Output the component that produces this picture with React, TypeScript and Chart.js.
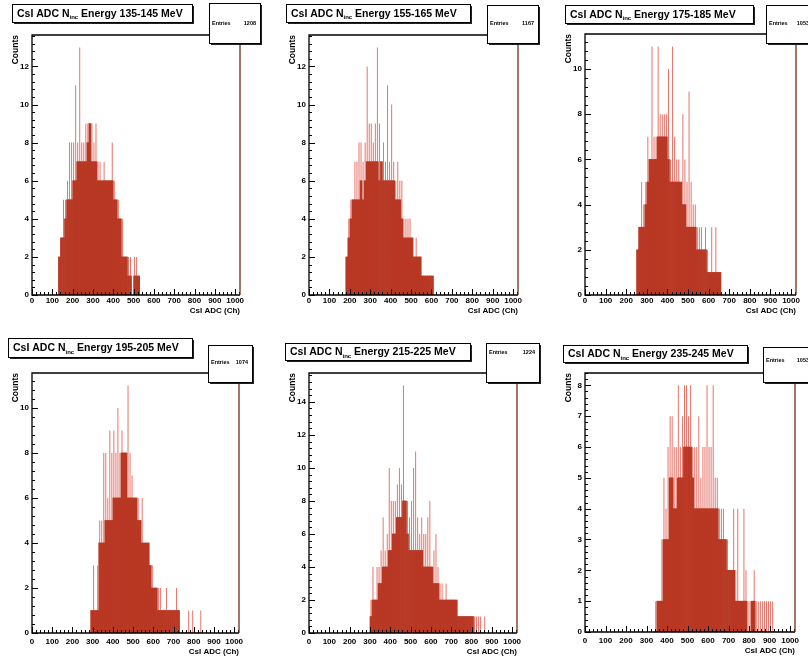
import React, { useEffect, useRef } from "react";
import { Chart, registerables } from "chart.js";

Chart.register(...registerables);

// ---------------- data ----------------
const BIN_WIDTH = 10; // ADC channels per drawn bin
const X_MAX = 1024;
const X_TICK_VALUES = [0, 100, 200, 300, 400, 500, 600, 700, 800, 900, 1000];
const X_TITLE = "CsI ADC (Ch)";
const Y_TITLE = "Counts";
const STATS_LABEL = "Entries";

const energyRanges = ["135-145", "155-165", "175-185", "195-205", "215-225", "235-245"];
const entries = [1208, 1167, 1053, 1074, 1224, 1053];
const startChannels = [130, 180, 250, 290, 300, 340];
const yTickSteps = [2, 2, 2, 2, 2, 1];

// dense level of the histogram (dark fill) and tallest single-channel spikes, per 10-channel bin
const body135 = [2, 3, 3, 4, 5, 5, 5, 6, 6, 7, 7, 7, 7, 7, 8, 9, 7, 7, 7, 6, 6, 6, 6, 6, 6, 6, 6, 5, 5, 4, 4, 2, 2, 2, 1, 1, 0, 1, 1, 1];
const peak135 = [2, 3, 5, 5, 6, 8, 8, 8, 11, 8, 13, 8, 8, 9, 9, 9, 9, 8, 9, 7, 7, 6, 7, 6, 6, 6, 8, 6, 5, 5, 4, 4, 2, 2, 2, 2, 0, 2, 2, 1];

const body155 = [2, 3, 4, 5, 5, 5, 5, 6, 5, 6, 7, 7, 7, 7, 7, 7, 6, 7, 6, 6, 6, 6, 6, 6, 5, 5, 5, 4, 3, 3, 3, 3, 3, 2, 2, 2, 2, 1, 1, 1, 1, 1, 1];
const peak155 = [2, 4, 5, 5, 7, 7, 8, 8, 7, 8, 12, 9, 9, 8, 9, 13, 9, 7, 8, 7, 11, 7, 10, 7, 6, 7, 6, 6, 4, 4, 4, 4, 3, 2, 3, 2, 2, 1, 1, 1, 1, 1, 1];

const body175 = [2, 3, 3, 3, 4, 5, 6, 6, 6, 6, 7, 7, 7, 7, 7, 6, 5, 5, 5, 5, 5, 5, 4, 4, 3, 3, 3, 3, 3, 2, 2, 2, 2, 2, 1, 1, 1, 1, 1, 1, 1];
const peak175 = [2, 3, 5, 4, 5, 7, 6, 11, 7, 7, 11, 8, 8, 8, 8, 10, 6, 11, 7, 6, 6, 5, 8, 6, 5, 9, 5, 4, 4, 3, 3, 3, 2, 3, 2, 1, 3, 1, 3, 1, 1];

const body195 = [1, 1, 1, 1, 4, 4, 4, 5, 5, 5, 5, 6, 6, 6, 6, 8, 8, 8, 6, 6, 6, 6, 6, 5, 5, 4, 4, 4, 4, 3, 2, 2, 2, 1, 1, 1, 1, 1, 1, 1, 1, 1, 1, 1, 0, 0, 0, 0, 0, 0, 0, 0, 0, 0, 0];
const peak195 = [1, 3, 1, 3, 5, 5, 8, 8, 6, 9, 8, 9, 8, 10, 8, 9, 8, 8, 11, 8, 7, 6, 6, 6, 5, 6, 4, 4, 4, 3, 3, 2, 2, 2, 2, 1, 1, 2, 1, 1, 1, 1, 2, 1, 0, 0, 0, 0, 1, 0, 1, 0, 0, 0, 1];

const body215 = [1, 2, 2, 2, 3, 3, 4, 4, 4, 5, 5, 6, 6, 7, 7, 7, 8, 8, 6, 5, 5, 5, 5, 5, 5, 5, 4, 4, 4, 4, 4, 3, 3, 3, 2, 2, 2, 2, 2, 2, 2, 2, 2, 1, 1, 1, 1, 1, 1, 1, 1, 0, 0, 0, 0, 0, 0];
const peak215 = [2, 4, 2, 4, 4, 5, 7, 5, 6, 10, 8, 8, 8, 9, 10, 9, 15, 8, 8, 7, 8, 10, 11, 7, 6, 7, 6, 6, 7, 8, 4, 5, 6, 4, 3, 3, 2, 3, 2, 2, 2, 2, 2, 1, 1, 1, 1, 1, 1, 1, 1, 1, 1, 1, 1, 0, 1];

const body235 = [0, 1, 1, 1, 3, 3, 3, 5, 5, 4, 4, 5, 5, 5, 6, 6, 6, 6, 5, 4, 4, 4, 4, 4, 4, 4, 4, 4, 4, 4, 4, 3, 3, 3, 3, 2, 2, 2, 2, 1, 1, 1, 1, 1, 1, 0, 0, 1, 1, 0, 0, 0, 0, 0, 0, 0, 0, 0];
const peak235 = [1, 1, 1, 3, 5, 4, 6, 7, 7, 6, 6, 8, 6, 7, 8, 8, 7, 8, 6, 6, 6, 7, 5, 6, 6, 8, 6, 6, 8, 5, 5, 4, 4, 4, 3, 3, 2, 2, 4, 2, 4, 1, 1, 4, 2, 1, 1, 1, 2, 1, 1, 1, 1, 1, 1, 1, 1, 1];

const bodies = [body135, body155, body175, body195, body215, body235];
const peaks = [peak135, peak155, peak175, peak195, peak215, peak235];

// ---------------- layout & style ----------------
const FONT = '"Liberation Sans", Arial, Helvetica, sans-serif';
const BODY_COLOR = "rgb(184,56,36)";
const PEAK_COLOR = "rgba(226,78,66,0.85)";
const FRAME_RIGHT = "#6e2e14";
const CANVAS_W = 277;

type Box = [number, number, number, number];
interface PanelLayout {
  plotLeft: number; plotTop: number; plotRight: number; plotBottom: number;
  canvasTop: number; canvasBottom: number; labelPad: number;
  titleBox: Box; statsBox: Box; statsY: number;
}

const LAYOUTS: PanelLayout[] = [
  { plotLeft: 32, plotTop: 35, plotRight: 240, plotBottom: 295, canvasTop: 0, canvasBottom: 316, labelPad: 1, titleBox: [12, 4, 192, 22], statsBox: [209, 3, 260, 43], statsY: 23 },
  { plotLeft: 309, plotTop: 35, plotRight: 518, plotBottom: 295, canvasTop: 0, canvasBottom: 316, labelPad: 1, titleBox: [286, 4, 470, 22], statsBox: [487, 5, 538, 43], statsY: 23 },
  { plotLeft: 585, plotTop: 34, plotRight: 796, plotBottom: 295, canvasTop: 0, canvasBottom: 316, labelPad: 1, titleBox: [565, 5, 753, 23], statsBox: [766, 5, 813, 43], statsY: 23 },
  { plotLeft: 32, plotTop: 373, plotRight: 239, plotBottom: 633, canvasTop: 331, canvasBottom: 657, labelPad: 4, titleBox: [8, 338, 192, 357], statsBox: [208, 345, 252, 382], statsY: 362 },
  { plotLeft: 309, plotTop: 373, plotRight: 517, plotBottom: 633, canvasTop: 331, canvasBottom: 657, labelPad: 4, titleBox: [285, 343, 470, 360], statsBox: [486, 343, 539, 382], statsY: 352 },
  { plotLeft: 585, plotTop: 373, plotRight: 795, plotBottom: 632, canvasTop: 331, canvasBottom: 656, labelPad: 4, titleBox: [563, 345, 747, 362], statsBox: [763, 347, 813, 382], statsY: 360 },
];

function drawPave(ctx: CanvasRenderingContext2D, b: Box, ox: number, oy: number) {
  const x0 = b[0] - ox, y0 = b[1] - oy, x1 = b[2] - ox, y1 = b[3] - oy;
  ctx.fillStyle = "#222";
  ctx.fillRect(x0 + 2, y0 + 2, x1 - x0, y1 - y0);
  ctx.fillStyle = "#fff";
  ctx.fillRect(x0, y0, x1 - x0, y1 - y0);
  ctx.strokeStyle = "#000";
  ctx.lineWidth = 1;
  ctx.strokeRect(Math.round(x0) + 0.5, Math.round(y0) + 0.5, Math.round(x1 - x0), Math.round(y1 - y0));
}

function makePanelPlugin(i: number) {
  const L = LAYOUTS[i];
  const ox = L.plotLeft - 32;
  const oy = L.canvasTop;
  return {
    id: "rootPanel" + i,
    afterDraw(chart: any) {
      const ctx: CanvasRenderingContext2D = chart.ctx;
      const ca = chart.chartArea;
      const xs = chart.scales.x;
      const ys = chart.scales.y;
      ctx.save();
      // inward tick marks
      ctx.strokeStyle = "#000";
      ctx.lineWidth = 1;
      ctx.beginPath();
      for (let v = 0; v <= X_MAX; v += 20) {
        const px = Math.round(xs.getPixelForValue(v)) + 0.5;
        const len = v % 100 === 0 ? 6 : 3;
        ctx.moveTo(px, ca.bottom);
        ctx.lineTo(px, ca.bottom - len);
      }
      const minor = yTickSteps[i] / 5;
      for (let k = 0; k * minor <= ys.max + 1e-9; k++) {
        const py = Math.round(ys.getPixelForValue(k * minor)) + 0.5;
        const len = k % 5 === 0 ? 6 : 3;
        ctx.moveTo(ca.left, py);
        ctx.lineTo(ca.left + len, py);
      }
      ctx.stroke();
      // frame
      ctx.lineWidth = 1.3;
      ctx.strokeStyle = "#000";
      ctx.beginPath();
      ctx.moveTo(ca.right, ca.top);
      ctx.lineTo(ca.left, ca.top);
      ctx.lineTo(ca.left, ca.bottom);
      ctx.lineTo(ca.right, ca.bottom);
      ctx.stroke();
      ctx.strokeStyle = FRAME_RIGHT;
      ctx.beginPath();
      ctx.moveTo(ca.right, ca.top);
      ctx.lineTo(ca.right, ca.bottom);
      ctx.stroke();

      // stats box
      drawPave(ctx, L.statsBox, ox, oy);
      ctx.fillStyle = "#000";
      ctx.font = `bold 5.5px ${FONT}`;
      ctx.textBaseline = "middle";
      ctx.textAlign = "left";
      ctx.fillText(STATS_LABEL, L.statsBox[0] - ox + 3, L.statsY - oy);
      ctx.textAlign = "right";
      ctx.fillText(String(entries[i]), L.statsBox[2] - ox - 4, L.statsY - oy);

      // title box
      drawPave(ctx, L.titleBox, ox, oy);
      ctx.fillStyle = "#000";
      ctx.textAlign = "left";
      ctx.textBaseline = "alphabetic";
      const tb = L.titleBox;
      const baseY = (tb[1] + tb[3]) / 2 - oy + 3.8;
      let tx = tb[0] - ox + 5;
      ctx.font = `bold 10.5px ${FONT}`;
      const p1 = "CsI ADC N";
      ctx.fillText(p1, tx, baseY);
      tx += ctx.measureText(p1).width;
      ctx.font = `bold 6px ${FONT}`;
      ctx.fillText("inc", tx, baseY + 2.5);
      tx += ctx.measureText("inc").width;
      ctx.font = `bold 10.5px ${FONT}`;
      ctx.fillText(` Energy ${energyRanges[i]} MeV`, tx, baseY);
      ctx.restore();
    },
  };
}

function makeConfig(i: number): any {
  const L = LAYOUTS[i];
  const ox = L.plotLeft - 32;
  const ch = L.canvasBottom - L.canvasTop;
  const start = startChannels[i];
  const yMax = Math.max(...peaks[i]) * 1.05;
  const step = yTickSteps[i];
  const toPts = (arr: number[]) =>
    arr.map((v, k) => ({ x: start + BIN_WIDTH * k + BIN_WIDTH / 2, y: v }));
  const tickFont = { family: FONT, size: 8, weight: "bold" as const };
  return {
    type: "bar",
    data: {
      datasets: [
        { data: toPts(bodies[i]), backgroundColor: BODY_COLOR, barPercentage: 1, categoryPercentage: 1, grouped: false, borderWidth: 0 },
        { data: toPts(peaks[i]), backgroundColor: PEAK_COLOR, barPercentage: 0.45, categoryPercentage: 1, grouped: false, borderWidth: 0 },
      ],
    },
    options: {
      responsive: false,
      animation: false,
      events: [],
      layout: {
        padding: { left: 0, top: L.plotTop - L.canvasTop, right: CANVAS_W - (L.plotRight - ox), bottom: 0 },
      },
      plugins: { legend: { display: false }, tooltip: { enabled: false }, title: { display: false } },
      scales: {
        x: {
          type: "linear",
          min: 0,
          max: X_MAX,
          offset: false,
          grid: { display: false, drawTicks: false },
          border: { display: false },
          afterBuildTicks: (s: any) => {
            s.ticks = X_TICK_VALUES.map((v) => ({ value: v }));
          },
          afterFit: (s: any) => {
            s.height = ch - (L.plotBottom - L.canvasTop);
          },
          ticks: {
            autoSkip: false,
            maxRotation: 0,
            minRotation: 0,
            padding: L.labelPad,
            color: "#000",
            font: tickFont,
            callback: (v: any) => String(v),
          },
          title: {
            display: true,
            text: X_TITLE,
            align: "end",
            color: "#000",
            font: { family: FONT, size: 8, weight: "bold" },
            padding: { top: 0, bottom: 0 },
          },
        },
        y: {
          type: "linear",
          min: 0,
          max: yMax,
          grid: { display: false, drawTicks: false },
          border: { display: false },
          afterBuildTicks: (s: any) => {
            const t: { value: number }[] = [];
            for (let v = 0; v <= yMax + 1e-9; v += step) t.push({ value: v });
            s.ticks = t;
          },
          afterFit: (s: any) => {
            s.width = 32;
          },
          ticks: {
            autoSkip: false,
            padding: 3,
            color: "#000",
            font: tickFont,
            callback: (v: any) => String(v),
          },
          title: {
            display: true,
            text: Y_TITLE,
            align: "end",
            color: "#000",
            font: { family: FONT, size: 8.5, weight: "bold" },
            padding: { top: 10.5, bottom: 0 },
          },
        },
      },
    },
    plugins: [makePanelPlugin(i)],
  };
}

function Panel({ index }: { index: number }) {
  const ref = useRef<HTMLCanvasElement>(null);
  useEffect(() => {
    if (!ref.current) return;
    const chart = new Chart(ref.current, makeConfig(index));
    return () => chart.destroy();
  }, [index]);
  const L = LAYOUTS[index];
  const h = L.canvasBottom - L.canvasTop;
  return (
    <canvas
      ref={ref}
      width={CANVAS_W}
      height={h}
      style={{ position: "absolute", left: L.plotLeft - 32, top: L.canvasTop, width: CANVAS_W, height: h }}
    />
  );
}

export default function App() {
  return (
    <div
      style={{
        position: "absolute",
        left: 0,
        top: 0,
        width: 808,
        height: 662,
        overflow: "hidden",
        background: "#fff",
      }}
    >
      {LAYOUTS.map((_, i) => (
        <Panel key={i} index={i} />
      ))}
    </div>
  );
}
